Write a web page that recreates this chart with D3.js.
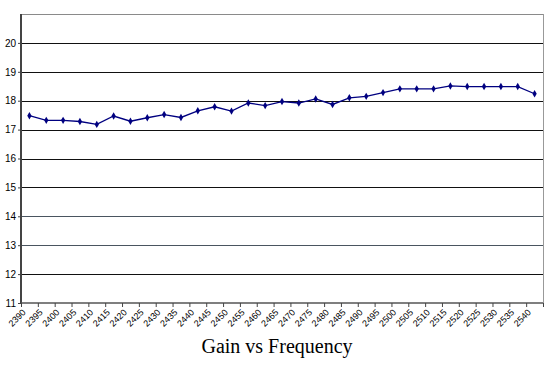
<!DOCTYPE html>
<html><head><meta charset="utf-8">
<script src="https://cdn.jsdelivr.net/npm/d3@7"></script>
<style>body{margin:0;background:#fff}svg{display:block}</style>
</head><body>
<svg id="c" width="550" height="371"></svg>
<script>
const categories = ["2390","2395","2400","2405","2410","2415","2420","2425","2430","2435","2440","2445","2450","2455","2460","2465","2470","2475","2480","2485","2490","2495","2500","2505","2510","2515","2520","2525","2530","2535","2540"];
const gain = [17.48,17.32,17.32,17.28,17.18,17.47,17.29,17.41,17.52,17.42,17.65,17.79,17.64,17.92,17.83,17.97,17.92,18.06,17.87,18.10,18.15,18.28,18.41,18.41,18.41,18.51,18.49,18.49,18.49,18.49,18.24];
const yTicks = [11,12,13,14,15,16,17,18,19,20];
const title = "Gain vs Frequency";

const svg = d3.select("#c");
const L = 21, R = 543, T = 14, B = 303;
const x = d3.scaleBand().domain(categories).range([L, R]);
const y = d3.scaleLinear().domain([11, 21]).range([B, T]);

// gridlines
svg.append("g").selectAll("line").data(d3.range(12, 22)).join("line")
  .attr("x1", L).attr("x2", R)
  .attr("y1", d => Math.round(y(d)) + 0.5).attr("y2", d => Math.round(y(d)) + 0.5)
  .attr("stroke", d => d === 21 ? "#8a8a8a" : (d === 14 || d === 13 ? "#4a5560" : "#111"))
  .attr("stroke-width", 1);

// right border
svg.append("line").attr("x1", R + 0.5).attr("x2", R + 0.5).attr("y1", T).attr("y2", B)
  .attr("stroke", "#999").attr("stroke-width", 1);

// y axis
const yAxis = svg.append("g").attr("transform", `translate(${L},0)`)
  .call(d3.axisLeft(y).tickValues(yTicks).tickSize(3).tickPadding(2).tickFormat(d3.format("d")));
yAxis.select(".domain").attr("stroke", "#444").attr("stroke-width", 2).attr("d", `M0,${T}V${B}`);
yAxis.selectAll(".tick line").attr("stroke", "#444");
yAxis.selectAll("text").attr("font-family", "Liberation Sans, Arial, sans-serif").attr("font-size", 10).attr("fill", "#000");

// x axis
const xAxis = svg.append("g").attr("transform", `translate(0,${B})`)
  .call(d3.axisBottom(x).tickSize(0).tickFormat(d => d));
xAxis.select(".domain").attr("stroke", "#555").attr("stroke-width", 1.5).attr("d", `M${L},0H${R}`);
xAxis.append("g").selectAll("line").data(categories).join("line")
  .attr("x1", d => x(d) + 0.5).attr("x2", d => x(d) + 0.5)
  .attr("y1", 0).attr("y2", 4).attr("stroke", "#444");
xAxis.append("line").attr("x1", R + 0.5).attr("x2", R + 0.5).attr("y1", 0).attr("y2", 4).attr("stroke", "#444");
xAxis.selectAll(".tick text")
  .attr("font-family", "Liberation Sans, Arial, sans-serif").attr("font-size", 9).attr("fill", "#000")
  .attr("text-anchor", "end").attr("dy", null).attr("y", 0)
  .attr("transform", "translate(-3,10) rotate(-45)");

// line
const cx = d => x(d) + x.bandwidth() / 2;
const line = d3.line().x((d, i) => cx(categories[i])).y(d => y(d));
svg.append("path").datum(gain).attr("d", line)
  .attr("fill", "none").attr("stroke", "#000080").attr("stroke-width", 1.3);

// markers
svg.append("g").selectAll("path").data(gain).join("path")
  .attr("d", d3.symbol().type(d3.symbolDiamond).size(16))
  .attr("transform", (d, i) => `translate(${cx(categories[i])},${y(d)})`)
  .attr("fill", "#000080");

// title
svg.append("text").attr("x", 277).attr("y", 353).attr("text-anchor", "middle")
  .attr("font-family", "Liberation Serif, 'DejaVu Serif', serif").attr("font-size", 20)
  .attr("fill", "#000").text(title);
</script>
</body></html>
